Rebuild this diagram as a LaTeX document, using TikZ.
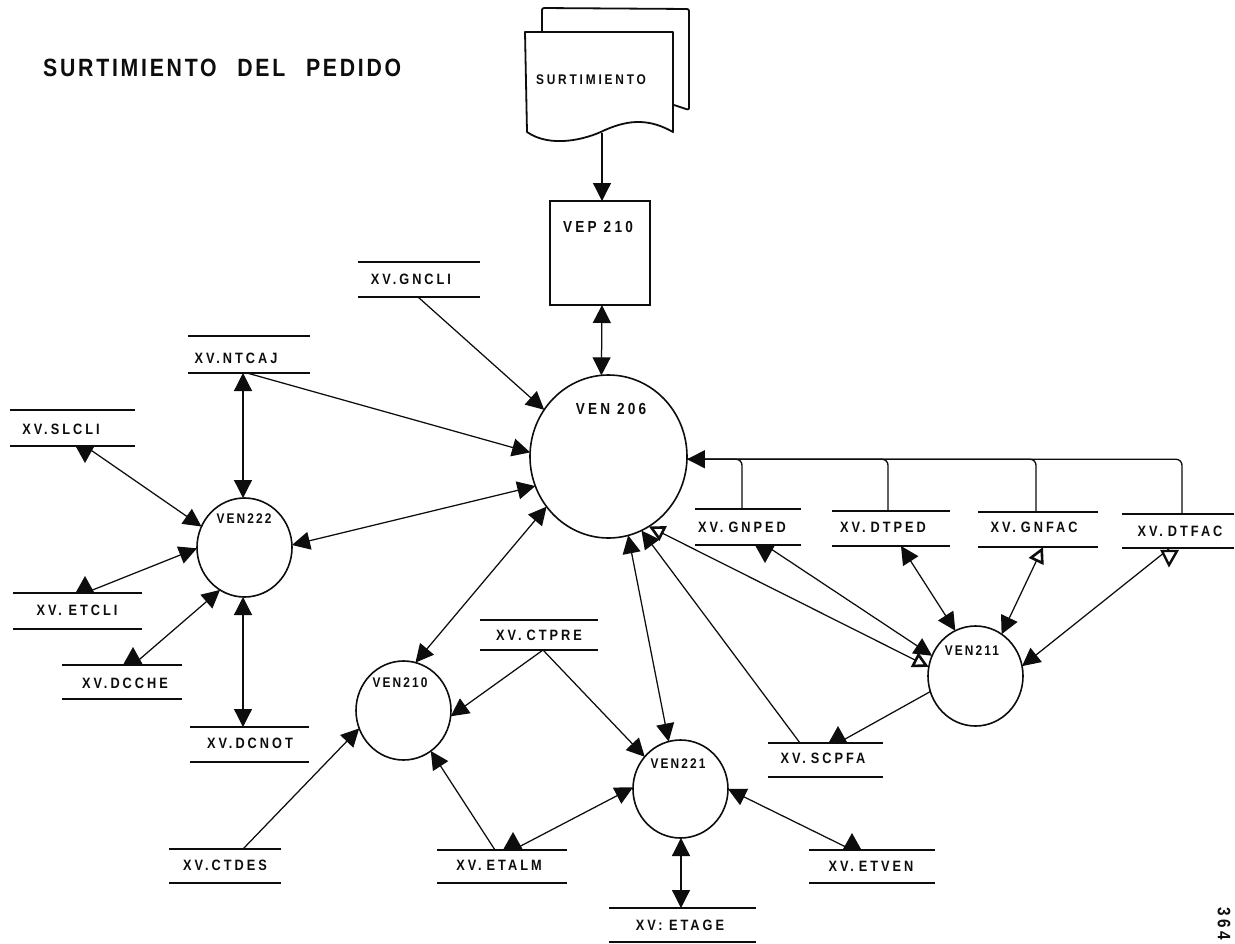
\documentclass[tikz,border=0pt]{standalone}
\usepackage{fontspec}
\setmainfont{Liberation Sans}
\newfontfamily\labfont[LetterSpace=20,FakeStretch=0.85]{Liberation Sans}
\newfontfamily\tightfont[LetterSpace=15,FakeStretch=0.85]{Liberation Sans}
\newfontfamily\titlefont[LetterSpace=11,FakeStretch=0.85]{Liberation Sans}
\usetikzlibrary{arrows.meta,shapes.geometric}
\tikzset{
  hd/.tip={Triangle[width=18pt,length=18pt]},
  hdo/.tip={Triangle[open,line width=2.6pt,width=16pt,length=16pt]},
  >=hd,
  conn/.style={draw=ink,line width=1.25pt},
  bus/.style={draw=ink,line width=1.3pt,rounded corners=6pt},
  storebox/.style={minimum width=#1,inner sep=0pt,outer sep=0pt},
  storeline/.style={draw=ink,line width=2pt},
  storetext/.style={inner sep=0pt,font=\labfont\bfseries\fontsize{15}{15}\selectfont,text=ink},
  proc/.style={ellipse,draw=ink,line width=1.6pt,inner sep=0pt,outer sep=0pt},
  proctext/.style={inner sep=0pt,font=\tightfont\bfseries\fontsize{14}{14}\selectfont,text=ink},
  bigtext/.style={inner sep=0pt,font=\labfont\bfseries\fontsize{16}{16}\selectfont,text=ink},
  docline/.style={draw=ink,line width=1.8pt,line join=round},
}
\definecolor{ink}{gray}{0.05}
\newcommand\wsp{\hspace{5pt}}
% name x1 x2 ytop ybot tx ty text
\newcommand\store[8]{%
  \node[storebox=#3pt-#2pt,minimum height=#5pt-#4pt] (#1) at ({(#2+#3)/2},{(#4+#5)/2}) {};
  \draw[storeline] (#1.north west) -- (#1.north east) (#1.south west) -- (#1.south east);
  \node[storetext] (#1-t) at (#6,#7) {#8};
}
% name cx cy w h tx ty text
\newcommand\proc[8]{%
  \node[proc,minimum width=#4pt,minimum height=#5pt] (#1) at (#2,#3) {};
  \node[proctext] (#1-t) at (#6,#7) {#8};
}
\newcommand\apexup[2]{\fill[ink] (#1,#2) -- (#1-9.5,#2+17) -- (#1+9.5,#2+17) -- cycle;}
\newcommand\apexdn[2]{\fill[ink] (#1,#2) -- (#1-9.5,#2-17) -- (#1+9.5,#2-17) -- cycle;}
\begin{document}
\begin{tikzpicture}[x=1pt,y=-1pt]
\useasboundingbox (0,0) rectangle (1235,943);
\fill[white] (0,0) rectangle (1235,943);

\node[inner sep=0pt,anchor=west,font=\titlefont\bfseries\fontsize{25}{25}\selectfont,text=ink] (title) at (43,68) {SURTIMIENTO\hspace{12pt} DEL\hspace{12pt} PEDIDO};
\node[inner sep=0pt,rotate=-90,font=\labfont\bfseries\fontsize{18}{18}\selectfont,text=ink] (pageno) at (1224,924) {364};

% document
\draw[docline,rounded corners=2pt] (542,32) -- (542,8) -- (689,9) -- (689,110) -- (674,105);
\draw[docline,fill=white] (525,32) -- (673,32) -- (673,132) .. controls (650,119) and (630,119) .. (605,130) .. controls (585,140) and (550,148) .. (527,132) -- cycle;
\node[inner sep=0pt,outer sep=0pt,minimum width=148pt,minimum height=101pt] (surt) at (599,82.5) {};
\node[inner sep=0pt,font=\labfont\bfseries\fontsize{14}{14}\selectfont,text=ink] (surt-t) at (591,80) {SURTIMIENTO};

% program
\node[draw=ink,line width=1.7pt,inner sep=0pt,outer sep=0pt,minimum width=100pt,minimum height=104pt] (vep) at (600,253) {};
\node[bigtext] (vep-t) at (598,227) {VEP 210};

% processes
\proc{v206}{608.5}{456.5}{157}{163}{611}{409}{}
\node[bigtext] (v206-l) at (611,409) {VEN 206};
\proc{v222}{244.5}{547.5}{95}{99}{244}{519}{VEN222}
\proc{v210}{403.5}{710.5}{95}{99}{400}{683}{VEN210}
\proc{v221}{680.5}{789}{95}{98}{678}{764}{VEN221}
\proc{v211}{975.5}{676}{95}{100}{972}{651}{VEN211}

% stores
\store{gncli}{358}{480}{262}{297}{411}{279}{XV.GNCLI}
\store{ntcaj}{188}{310}{336}{373}{236}{358}{XV.NTCAJ}
\store{slcli}{10}{135}{410}{446}{61}{429}{XV.SLCLI}
\store{etcli}{13}{142}{593}{629}{77}{610}{XV. ETCLI}
\store{dcche}{62}{182}{665}{699}{125}{683}{XV.DCCHE}
\store{dcnot}{190}{309}{727}{762}{250}{743}{XV.DCNOT}
\store{ctdes}{169}{281}{849}{883}{225}{865}{XV.CTDES}
\store{ctpre}{480}{598}{620}{650}{539}{635}{XV.\wsp CTPRE}
\store{etalm}{437}{567}{850}{883}{499}{865}{XV.\wsp ETALM}
\store{etage}{609}{756}{908}{942}{680}{925}{XV: ETAGE}
\store{scpfa}{768}{883}{743}{777}{823}{758}{XV.\wsp SCPFA}
\store{etven}{809}{935}{850}{883}{871}{866}{XV.\wsp ETVEN}
\store{gnped}{695}{801}{509}{545}{742}{527}{XV.\wsp GNPED}
\store{dtped}{832}{950}{511}{546}{883}{527}{XV.\wsp DTPED}
\store{gnfac}{978}{1098}{512}{547}{1034}{527}{XV.\wsp GNFAC}
\store{dtfac}{1122}{1234}{514}{548}{1180}{531}{XV.\wsp DTFAC}

% connectors
\draw[conn,->] ([xshift=3pt]surt.south) -- ([xshift=2pt]vep.north);
\draw[conn,<->] ([xshift=2pt]vep.south) -- (v206.95);
\draw[conn,->] ([xshift=-1pt]gncli.south) -- (v206.144);
\draw[conn,->] ([xshift=-2pt]ntcaj.south) -- (v206.177);
\draw[conn,<->] (v222.3) -- (v206.202);
\draw[conn,<->] (v210.76) -- (v206.219);
\draw[conn,<->] (v221.104) -- (v206.284);
\draw[conn,->] ([xshift=-25.5pt]scpfa.north) -- (v206.294);
\draw[conn,{hdo}-{hdo}] (v211.169) -- (v206.300);
\draw[conn,<->] ([xshift=-6pt]ntcaj.south) -- ([xshift=-6pt]ntcaj.south |- v222.north);
\draw[conn,->] ([xshift=12.5pt]slcli.south) -- (v222.154);
\draw[conn,->] ([xshift=7.5pt]etcli.north) -- (v222.181);
\draw[conn,->] ([xshift=11pt]dcche.north) -- (v222.240);
\draw[conn,<->] ([xshift=-6.5pt]dcnot.north) -- ([xshift=-6.5pt]dcnot.north |- v222.south);
\draw[conn,->] ([xshift=18pt]ctdes.north) -- (v210.202);
\draw[conn,->] ([xshift=4pt]ctpre.south) -- (v210.-7);
\draw[conn,->] ([xshift=4pt]ctpre.south) -- (v221.138);
\draw[conn,->] ([xshift=-7pt]etalm.north) -- (v210.-56);
\draw[conn,->] ([xshift=11pt]etalm.north) -- (v221.178);
\draw[conn,<->] ([xshift=-1.5pt]etage.north) -- ([xshift=-1.5pt]etage.north |- v221.south);
\draw[conn,<-] (v221.0) -- ([xshift=-20pt]etven.north);
\draw[conn] (v211.199) -- ([xshift=12.5pt]scpfa.north);
\draw[conn,->] ([xshift=17pt]gnped.south) -- (v211.155);
\draw[conn,<->] ([xshift=10pt]dtped.south) -- (v211.114);
\draw[conn,{hdo}-{hd}] ([xshift=5pt]gnfac.south) -- (v211.58);
\draw[conn,->] ([xshift=-8pt]dtfac.south) -- (v211.12);

% heads drawn upright on the stores
\apexdn{85}{463}
\apexup{85}{576}
\apexup{133}{647}
\apexdn{765}{563}
\apexup{513}{832}
\apexup{852}{833}
\apexup{838}{726}
\draw[ink,line width=2.4pt,fill=white] (1169,565) -- (1162,551) -- (1177,551) -- cycle;

% bus
\draw[bus,->] ([xshift=4pt]dtfac.north) |- (v206.-2);
\draw[bus] ([xshift=-6pt]gnped.north) |- (v206.-2);
\draw[bus] ([xshift=-3pt]dtped.north) |- (v206.-2);
\draw[bus] ([xshift=-2pt]gnfac.north) |- (v206.-2);
\end{tikzpicture}
\end{document}
